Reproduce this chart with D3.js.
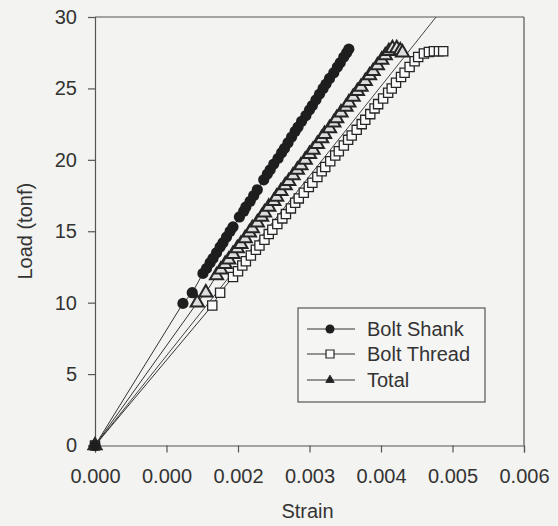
<!DOCTYPE html>
<html><head><meta charset="utf-8">
<script src="https://cdn.jsdelivr.net/npm/d3@7"></script>
<style>
html,body{margin:0;padding:0;background:#f3f3f1;}
svg{display:block;}
text{font-family:"Liberation Sans",Arial,sans-serif;fill:#333;}
</style></head><body>
<svg id="c" width="558" height="526"></svg>
<script>
// strain values in units of 1e-3, load in tonf
const shankStrain = [0,1.23,1.36,1.51,1.56,1.61,1.65,1.70,1.75,1.79,1.84,1.89,1.93,2.02,2.08,2.11,2.17,2.22,2.27,2.36,2.41,2.45,2.50,2.56,2.61,2.65,2.70,2.75,2.80,2.84,2.89,2.95,3.00,3.04,3.09,3.14,3.19,3.23,3.28,3.34,3.39,3.43,3.48,3.52,3.55];
const shankLoad   = [0,9.95,10.7,12.05,12.4,12.8,13.1,13.5,13.9,14.2,14.6,15.0,15.3,16.0,16.4,16.7,17.1,17.5,17.9,18.6,19.0,19.3,19.7,20.1,20.5,20.8,21.2,21.6,22.0,22.3,22.7,23.1,23.5,23.8,24.2,24.6,25.0,25.3,25.7,26.1,26.5,26.8,27.2,27.5,27.75];

const threadStrain = [0,1.64,1.75,1.93,2.00,2.06,2.11,2.18,2.25,2.30,2.37,2.43,2.48,2.55,2.62,2.67,2.74,2.80,2.85,2.92,2.99,3.04,3.11,3.17,3.22,3.29,3.36,3.41,3.48,3.54,3.59,3.66,3.73,3.78,3.85,3.91,3.96,4.03,4.10,4.15,4.21,4.28,4.33,4.40,4.47,4.52,4.60,4.67,4.74,4.81,4.87];
const threadLoad   = [0,9.8,10.7,11.8,12.2,12.6,12.9,13.3,13.7,14.0,14.4,14.8,15.1,15.5,15.9,16.2,16.6,17.0,17.3,17.7,18.1,18.4,18.8,19.2,19.5,19.9,20.3,20.6,21.0,21.4,21.7,22.1,22.5,22.8,23.2,23.6,23.9,24.3,24.7,25.0,25.4,25.8,26.1,26.5,26.9,27.2,27.45,27.55,27.6,27.6,27.6];

const totalStrain = [0,1.43,1.55,1.70,1.76,1.82,1.87,1.93,1.99,2.04,2.10,2.16,2.20,2.27,2.33,2.37,2.43,2.50,2.54,2.60,2.66,2.71,2.77,2.83,2.88,2.94,3.00,3.05,3.11,3.17,3.21,3.28,3.34,3.38,3.44,3.51,3.55,3.61,3.67,3.72,3.78,3.84,3.89,3.95,4.01,4.06,4.11,4.16,4.22,4.27,4.30];
const totalLoad   = [0,10.0,10.7,11.9,12.3,12.7,13.0,13.4,13.8,14.1,14.5,14.9,15.2,15.6,16.0,16.3,16.7,17.1,17.4,17.8,18.2,18.5,18.9,19.3,19.6,20.0,20.4,20.7,21.1,21.5,21.8,22.2,22.6,22.9,23.3,23.7,24.0,24.4,24.8,25.1,25.5,25.9,26.2,26.6,27.0,27.3,27.6,27.8,27.8,27.65,27.5];

const refStrain = [0,4.77];
const refLoad   = [0,30];

const xTicks = [0,1,2,3,4,5,6];
const xTickLabels = ["0.000","0.000","0.002","0.003","0.004","0.005","0.006"];
const yTicks = [0,5,10,15,20,25,30];
const seriesNames = ["Bolt Shank","Bolt Thread","Total"];

const svg = d3.select("#c");
const L = 95, R = 524, T = 17, B = 445.5;
const x = d3.scaleLinear().domain([0,6]).range([L,R]);
const y = d3.scaleLinear().domain([0,30]).range([B,T]);
const ink = "#262626";

// frame
svg.append("line").attr("x1",L).attr("x2",R).attr("y1",T).attr("y2",T).attr("stroke","#555").attr("stroke-width",1.2);
svg.append("line").attr("x1",R).attr("x2",R).attr("y1",T).attr("y2",B).attr("stroke","#555").attr("stroke-width",1.2);

const xAxis = d3.axisBottom(x).tickValues(xTicks).tickFormat((d,i)=>xTickLabels[i]).tickSize(7).tickPadding(16);
const gx = svg.append("g").attr("transform",`translate(0,${B})`).call(xAxis);
const yAxis = d3.axisLeft(y).tickValues(yTicks).tickSize(7).tickPadding(11);
const gy = svg.append("g").attr("transform",`translate(${L},0)`).call(yAxis);
[gx,gy].forEach(g=>{
  g.select(".domain").attr("stroke","#555").attr("stroke-width",1.2);
  g.selectAll(".tick line").attr("stroke","#555").attr("stroke-width",1.2);
  g.selectAll(".tick text").style("font-size","20px").style("font-family","Liberation Sans, Arial, sans-serif").attr("fill","#333");
});

svg.append("text").attr("x",(L+R)/2-2).attr("y",518).attr("text-anchor","middle").style("font-size","20px").text("Strain");
svg.append("text").attr("transform",`translate(32,${(T+B)/2}) rotate(-90)`).attr("text-anchor","middle").style("font-size","20px").text("Load (tonf)");

const line = d3.line().x(d=>x(d[0])).y(d=>y(d[1]));
const zip = (a,b)=>a.map((v,i)=>[v,b[i]]);

// reference straight line
svg.append("path").datum(zip(refStrain,refLoad)).attr("d",line).attr("fill","none").attr("stroke","#444").attr("stroke-width",1);

const shank = zip(shankStrain,shankLoad);
const thread = zip(threadStrain,threadLoad);
const total = zip(totalStrain,totalLoad);
[shank,thread,total].forEach(s=>{
  svg.append("path").datum(s).attr("d",line).attr("fill","none").attr("stroke","#333").attr("stroke-width",1);
});

const sqr = d3.symbol().type(d3.symbolSquare).size(85);
const tri = d3.symbol().type(d3.symbolTriangle).size(75);

svg.append("g").selectAll("path").data(thread).join("path")
  .attr("d",sqr).attr("transform",d=>`translate(${x(d[0])},${y(d[1])})`)
  .attr("fill","#fafafa").attr("stroke",ink).attr("stroke-width",1.3);
svg.append("g").selectAll("path").data(total).join("path")
  .attr("d",tri).attr("transform",d=>`translate(${x(d[0])},${y(d[1])})`)
  .attr("fill","#ddd").attr("stroke",ink).attr("stroke-width",2);
svg.append("g").selectAll("circle").data(shank).join("circle")
  .attr("cx",d=>x(d[0])).attr("cy",d=>y(d[1])).attr("r",5.6).attr("fill","#1e1e1e");

// legend
const lg = svg.append("g");
lg.append("rect").attr("x",298).attr("y",308).attr("width",187).attr("height",94).attr("fill","#f5f5f3").attr("stroke","#555").attr("stroke-width",1.2);
const ly = [329,354,380];
seriesNames.forEach((n,i)=>{
  lg.append("line").attr("x1",307).attr("x2",355).attr("y1",ly[i]).attr("y2",ly[i]).attr("stroke","#333").attr("stroke-width",1);
  lg.append("text").attr("x",367).attr("y",ly[i]+7).style("font-size","20px").text(n);
});
lg.append("circle").attr("cx",330).attr("cy",ly[0]).attr("r",4.5).attr("fill","#1e1e1e");
lg.append("path").attr("d",d3.symbol().type(d3.symbolSquare).size(64)).attr("transform",`translate(330,${ly[1]})`).attr("fill","#fafafa").attr("stroke",ink).attr("stroke-width",1.2);
lg.append("path").attr("d",d3.symbol().type(d3.symbolTriangle).size(30)).attr("transform",`translate(330,${ly[2]})`).attr("fill","#222").attr("stroke",ink).attr("stroke-width",1);
</script></body></html>
